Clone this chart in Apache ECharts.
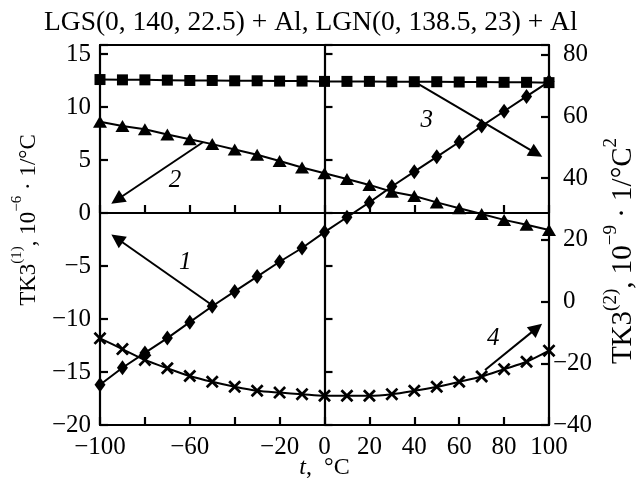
<!DOCTYPE html>
<html><head><meta charset="utf-8">
<script src="https://cdn.jsdelivr.net/npm/echarts@6/dist/echarts.min.js"></script>
<style>html,body{margin:0;padding:0;background:#fff}#c{width:642px;height:494px}</style>
</head><body><div id="c"></div>
<script>
// ---- data ----
const temps = [-100,-90,-80,-70,-60,-50,-40,-30,-20,-10,0,10,20,30,40,50,60,70,80,90,100];
// curve 1 (diamonds), left axis, 10^-6 1/°C
const curve1 = [-16.2,-14.6,-13.2,-11.8,-10.3,-8.8,-7.4,-6.0,-4.6,-3.3,-1.8,-0.4,1.0,2.5,3.9,5.3,6.7,8.2,9.6,11.0,12.4];
// curve 2 (triangles), left axis
const curve2 = [8.6,8.2,7.9,7.4,6.95,6.5,6.0,5.5,4.9,4.3,3.75,3.2,2.65,2.0,1.6,1.0,0.45,-0.1,-0.65,-1.1,-1.6];
// curve 3 (squares), right axis, 10^-9 1/°C^2
const curve3 = [72.0,71.9,71.9,71.8,71.7,71.7,71.6,71.6,71.5,71.5,71.4,71.4,71.4,71.3,71.3,71.3,71.2,71.2,71.1,71.1,71.0];
// curve 4 (crosses), right axis
const curve4 = [-11.9,-15.4,-18.9,-21.6,-24.1,-26.0,-27.6,-28.9,-29.5,-30.0,-30.5,-30.5,-30.5,-30.0,-28.9,-27.6,-26.0,-24.3,-21.9,-19.5,-15.9];
// tick labels
const xLabelValues = [-100,-60,-20,0,20,40,60,80,100];
const leftLabelValues = [15,10,5,0,-5,-10,-15,-20];
const rightLabelValues = [80,60,40,20,0,-20,-40];
// annotation arrows [from, to] and curve numbers (data coordinates)
const arrow1 = [[-50,-8.7],[-92.4,-2.4]];
const arrow2 = [[-54,6.7],[-92.4,1.25]];
const arrow3 = [[40,71.3],[94.3,48.1]];
const arrow4 = [[71.5,-22.2],[94.5,-8.6]];
const num1 = [-62,-4.7], num2 = [-66.6,3.1], num3 = [45.5,58.9], num4 = [75.2,-11.9];

const FONT = 'Liberation Serif';
const fmt = v => (v < 0 ? '\u2212' + (-v) : '' + v);
const pairs = arr => temps.map((t,i) => [t, arr[i]]);
const AX = {color:'#000', width:2.2};

function arrowLine(a){
  return {
    silent:true, symbol:['none','triangle'], symbolSize:14,
    lineStyle:{color:'#000', width:2, type:'solid'}, itemStyle:{color:'#000'},
    label:{show:false}, emphasis:{disabled:true},
    data:[[{coord:a[0]},{coord:a[1]}]]
  };
}
function numLabel(p, txt){
  return {
    silent:true, symbol:'circle', symbolSize:1, itemStyle:{color:'rgba(0,0,0,0)'},
    label:{show:true, position:'inside', formatter:txt, color:'#000', fontStyle:'italic', fontFamily:FONT, fontSize:25},
    data:[{coord:p}]
  };
}
const leftRich = {
  m:{fontFamily:FONT, fontSize:23, color:'#000', lineHeight:30, verticalAlign:'bottom'},
  s:{fontFamily:FONT, fontSize:15, color:'#000', lineHeight:16, verticalAlign:'top'}
};
const rightRich = {
  m:{fontFamily:FONT, fontSize:29, color:'#000', lineHeight:36, verticalAlign:'bottom'},
  s:{fontFamily:FONT, fontSize:19, color:'#000', lineHeight:20, verticalAlign:'top'}
};

const chart = echarts.init(document.getElementById('c'), null, {renderer:'canvas'});
chart.setOption({
  animation:false,
  backgroundColor:'#fff',
  title:{text:'LGS(0, 140, 22.5) + Al, LGN(0, 138.5, 23) + Al', left:39, top:4,
    textStyle:{fontFamily:FONT, fontSize:27.5, fontWeight:'normal', color:'#000'}},
  grid:{left:100, right:93, top:45, bottom:69, containLabel:false, outerBoundsMode:'none'},
  xAxis:[
    {type:'value', min:-100, max:100, interval:20, position:'bottom',
     axisLine:{show:true, onZero:false, lineStyle:AX},
     axisTick:{show:true, inside:true, length:8, lineStyle:AX},
     axisLabel:{margin:10, fontFamily:FONT, fontSize:25, color:'#000',
       formatter:v => xLabelValues.includes(v) ? fmt(v) : ''},
     splitLine:{show:false},
     name:'{i|t}{m|,  °C}', nameLocation:'middle', nameGap:31, nameMoveOverlap:false,
     nameTextStyle:{rich:{i:{fontFamily:FONT, fontSize:24, fontStyle:'italic', color:'#000'}, m:{fontFamily:FONT, fontSize:24, color:'#000'}}}},
    {type:'value', min:-100, max:100, position:'top',
     axisLine:{show:true, onZero:false, lineStyle:AX}, axisTick:{show:false}, axisLabel:{show:false}, splitLine:{show:false}},
    {type:'value', min:-100, max:100, interval:20, position:'bottom',
     axisLine:{show:true, onZero:true, onZeroAxisIndex:0, lineStyle:AX},
     axisTick:{show:true, inside:true, length:8, lineStyle:AX}, axisLabel:{show:false}, splitLine:{show:false}}
  ],
  yAxis:[
    {type:'value', min:-20, max:15.85, interval:5, position:'left',
     axisLine:{show:true, onZero:false, lineStyle:AX},
     axisTick:{show:true, inside:true, length:8, lineStyle:AX},
     axisLabel:{margin:9, fontFamily:FONT, fontSize:25, color:'#000',
       formatter:v => leftLabelValues.includes(v) ? fmt(v) : ''},
     splitLine:{show:false},
     name:'{m|TK3}{s|(1)}{m|, 10}{s|\u22126}{m| \u00b7 1/°C}', nameLocation:'middle', nameRotate:90, nameGap:60, nameMoveOverlap:false,
     nameTextStyle:{rich:leftRich, padding:[0,0,0,30]}},
    {type:'value', min:-40, max:83.2, interval:20, position:'right',
     axisLine:{show:true, onZero:false, lineStyle:AX},
     axisTick:{show:true, inside:true, length:8, lineStyle:AX},
     axisLabel:{margin:4, fontFamily:FONT, fontSize:25, color:'#000',
       formatter:v => rightLabelValues.includes(v) ? (v < 0 ? '{n|' + fmt(v) + '}' : '{p|' + fmt(v) + '}') : '',
       rich:{n:{fontFamily:FONT, fontSize:25, color:'#000'}, p:{fontFamily:FONT, fontSize:25, color:'#000', padding:[0,0,0,10]}}},
     splitLine:{show:false},
     name:'{m|TK3}{s|(2)}{m|, 10}{s|\u22129}{m| \u00b7 1/°C}{s|2}', nameLocation:'middle', nameRotate:90, nameGap:53, nameMoveOverlap:false,
     nameTextStyle:{rich:rightRich, padding:[0,32,0,0]}},
    {type:'value', min:-20, max:15.85, interval:5, position:'left',
     axisLine:{show:true, onZero:true, onZeroAxisIndex:0, lineStyle:AX},
     axisTick:{show:true, inside:true, length:8, lineStyle:AX}, axisLabel:{show:false}, splitLine:{show:false}}
  ],
  series:[
    {name:'1', type:'line', xAxisIndex:0, yAxisIndex:0, data:pairs(curve1),
     symbol:'diamond', symbolSize:[11,15], itemStyle:{color:'#000'}, lineStyle:{color:'#000', width:2},
     markLine:arrowLine(arrow1), markPoint:numLabel(num1,'1'), z:3},
    {name:'2', type:'line', xAxisIndex:0, yAxisIndex:0, data:pairs(curve2),
     symbol:'triangle', symbolSize:[14,12], itemStyle:{color:'#000'}, lineStyle:{color:'#000', width:2},
     markLine:arrowLine(arrow2), markPoint:numLabel(num2,'2'), z:3},
    {name:'3', type:'line', xAxisIndex:0, yAxisIndex:1, data:pairs(curve3),
     symbol:'rect', symbolSize:11, itemStyle:{color:'#000'}, lineStyle:{color:'#000', width:2},
     markLine:arrowLine(arrow3), markPoint:numLabel(num3,'3'), z:3},
    {name:'4', type:'line', xAxisIndex:0, yAxisIndex:1, data:pairs(curve4), smooth:0.3,
     symbol:'path://M0,1.5L1.5,0L5,3.5L8.5,0L10,1.5L6.5,5L10,8.5L8.5,10L5,6.5L1.5,10L0,8.5L3.5,5Z',
     symbolSize:13, itemStyle:{color:'#000'}, lineStyle:{color:'#000', width:2},
     markLine:arrowLine(arrow4), markPoint:numLabel(num4,'4'), z:3}
  ]
});
</script></body></html>
